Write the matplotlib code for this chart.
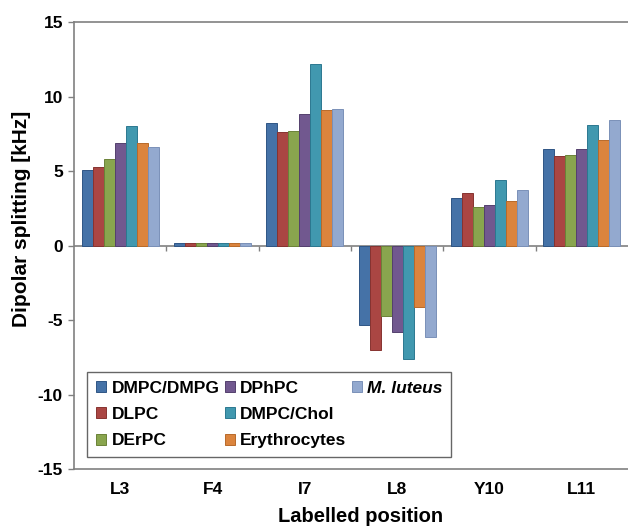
import matplotlib
matplotlib.use("Agg")
import matplotlib.pyplot as plt
from matplotlib.patches import Patch
import numpy as np

plt.rcParams['font.family'] = ['Liberation Sans', 'DejaVu Sans']
plt.rcParams['font.weight'] = 'bold'
plt.rcParams['axes.unicode_minus'] = False

#labelled positions along the peptide
positions = ['L3', 'F4', 'I7', 'L8', 'Y10', 'L11']

#dipolar splittings in kHz, one list per membrane system
dmpc_dmpg = [5.1, 0.2, 8.2, -5.3, 3.2, 6.5]
dlpc = [5.3, 0.2, 7.6, -7.0, 3.5, 6.0]
derpc = [5.8, 0.2, 7.7, -4.7, 2.6, 6.1]
dphpc = [6.9, 0.2, 8.8, -5.8, 2.7, 6.5]
dmpc_chol = [8.0, 0.2, 12.2, -7.6, 4.4, 8.1]
erythrocytes = [6.9, 0.2, 9.1, -4.1, 3.0, 7.1]
m_luteus = [6.6, 0.2, 9.2, -6.1, 3.7, 8.4]

series = [dmpc_dmpg, dlpc, derpc, dphpc, dmpc_chol, erythrocytes, m_luteus]
names = ['DMPC/DMPG', 'DLPC', 'DErPC', 'DPhPC', 'DMPC/Chol', 'Erythrocytes', 'M. luteus']
colors = ['#4572A7', '#AA4643', '#89A54E', '#71588F', '#4198AF', '#DB843D', '#93A9CF']
edges = ['#2F5585', '#873330', '#6B8238', '#54406E', '#2C7890', '#B86A2A', '#7A90B8']

fig = plt.figure(figsize=(6.28, 5.26), dpi=100)
ax = fig.add_axes([0.118, 0.108, 0.882, 0.85])

x = np.arange(len(positions))
w = 0.119
handles = []
for i, vals in enumerate(series):
    b = ax.bar(x + (i - 3) * w, vals, w, color=colors[i], edgecolor=edges[i], linewidth=0.7,
               label=names[i], zorder=3)
    handles.append(b)

ax.set_xlim(-0.5, 5.5)
ax.set_ylim(-15, 15)
ax.set_yticks([-15, -10, -5, 0, 5, 10, 15])

#zero line with small tick marks between the groups
ax.axhline(0, color='#808080', linewidth=1.2, zorder=2)
ax.vlines(np.arange(0.5, 5.5, 1), -0.35, 0, color='#808080', linewidth=1.0, zorder=2)

ax.set_xticks(x)
ax.set_xticklabels(positions)
ax.tick_params(axis='x', length=0, pad=9, labelsize=12.5)
ax.tick_params(axis='y', length=4, width=1.0, color='#808080', labelsize=12.5, pad=4)
for lab in ax.get_xticklabels() + ax.get_yticklabels():
    lab.set_fontweight('bold')

for s in ['left', 'top', 'bottom']:
    ax.spines[s].set_color('#808080')
    ax.spines[s].set_linewidth(1.2)
ax.spines['right'].set_visible(False)

ax.set_xlabel('Labelled position', fontsize=14.5, fontweight='bold')
ax.set_ylabel('Dipolar splitting [kHz]', fontsize=15, fontweight='bold')
ax.xaxis.set_label_coords(0.518, -0.084)
ax.yaxis.set_label_coords(-0.077, 0.56)

#two empty entries so the legend columns fill 3, 3, 1 like the original
blank = Patch(facecolor='none', edgecolor='none')
leg = ax.legend(handles + [blank, blank], names + ['', ''], ncol=3, loc='lower left',
                bbox_to_anchor=(0.0235, 0.027), borderaxespad=0,
                prop={'size': 12.5, 'weight': 'bold'}, frameon=True, fancybox=False,
                handlelength=0.6, handleheight=0.6, handletextpad=0.3, columnspacing=0.3,
                labelspacing=0.66, borderpad=0.5)
leg.get_frame().set_edgecolor('#404040')
leg.get_frame().set_linewidth(1.0)
leg.get_texts()[6].set_fontstyle('italic')

plt.savefig('out.png', dpi=100)
